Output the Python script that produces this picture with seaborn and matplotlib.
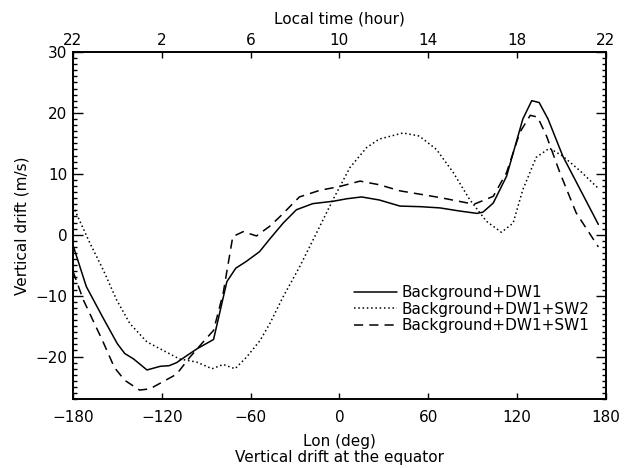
import pandas as pd
import matplotlib
matplotlib.use('Agg')
import matplotlib.pyplot as plt
import seaborn as sns
from matplotlib.ticker import MultipleLocator

# Values (lon in deg, drift in m/s)
lon_dw1 = [-180, -171, -160, -150, -145, -139, -130, -121, -115, -110, -104, -96, -85, -76, -70,
           -63, -54, -47, -38, -29, -18, -4, 5, 15, 27, 41, 55, 68, 81, 93, 97, 104, 113, 124,
           130, 135, 141, 151, 175]
drift_dw1 = [-1.7, -8.5, -13.5, -17.9, -19.5, -20.4, -22.2, -21.6, -21.5, -21.0, -20.0, -18.7, -17.2,
             -7.7, -5.5, -4.4, -2.8, -0.7, 1.9, 4.1, 5.1, 5.5, 5.9, 6.2, 5.7, 4.7, 4.6, 4.4, 3.9,
             3.5, 3.7, 5.2, 9.6, 19.0, 22.0, 21.7, 19.0, 12.9, 1.7]

lon_sw2 = [-180, -168.5, -159.5, -150.5, -141.5, -130, -119, -108, -96.5, -86, -78.5, -70.5, -62.7,
           -53.7, -47, -38, -26.7, -15.4, -4.2, 7.1, 18.4, 27, 43, 54, 65.6, 77, 88, 99.4, 109.5,
           117.4, 124, 133, 142, 151, 162.6, 175]
drift_sw2 = [4.7, -1.4, -5.8, -10.7, -14.6, -17.6, -19.0, -20.4, -20.9, -22.0, -21.3, -22.0, -20.1,
             -17.4, -14.6, -10.2, -5.2, 0.3, 5.8, 11.0, 14.3, 15.7, 16.7, 16.2, 14.0, 10.2, 5.8,
             2.2, 0.4, 1.9, 7.4, 12.7, 14.2, 12.9, 10.5, 7.6]

lon_sw1 = [-180, -173, -160, -152, -145, -135, -128, -119, -110, -101, -92, -85, -78.5, -72, -65,
           -56, -47, -40, -27, -13, 0, 14, 27, 41, 68, 91, 104, 113, 122, 129, 134, 140, 149, 160,
           175]
drift_sw1 = [-6.0, -10.7, -17.4, -21.8, -23.9, -25.5, -25.3, -24.1, -22.9, -20.1, -17.6, -15.7, -9.6,
             -0.3, 0.5, -0.2, 1.4, 3.0, 6.2, 7.3, 7.9, 8.8, 8.2, 7.2, 6.1, 5.0, 6.3, 10.2, 16.8,
             19.6, 19.3, 16.2, 10.2, 3.6, -2.0]

lon_ticks = [-180, -120, -60, 0, 60, 120, 180]
lt_labels = ['22', '2', '6', '10', '14', '18', '22']

sns.set_style('ticks')
plt.rcParams['font.family'] = ['DejaVu Sans']
plt.rcParams['font.size'] = 11
plt.rcParams['text.color'] = 'black'
plt.rcParams['axes.labelcolor'] = 'black'
plt.rcParams['xtick.color'] = 'black'
plt.rcParams['ytick.color'] = 'black'

fig = plt.figure(figsize=(6.29, 4.68), dpi=100)
ax = fig.add_axes([0.116, 0.147, 0.847, 0.742])

series = [
    (lon_dw1, drift_dw1, 'Background+DW1', '-'),
    (lon_sw2, drift_sw2, 'Background+DW1+SW2', (0, (1, 1.8))),
    (lon_sw1, drift_sw1, 'Background+DW1+SW1', (0, (6, 4))),
]
for lon, drift, name, ls in series:
    df = pd.DataFrame({'lon': lon, 'drift': drift})
    sns.lineplot(data=df, x='lon', y='drift', ax=ax, color='black', linewidth=1.1,
                 linestyle=ls, label=name, sort=False)

ax.set_xlim(-180, 180)
ax.set_ylim(-27, 30)
ax.set_xticks(lon_ticks)
ax.set_yticks([-20, -10, 0, 10, 20, 30])
ax.yaxis.set_minor_locator(MultipleLocator(1))
ax.tick_params(axis='both', which='both', direction='in', colors='black', labelsize=11)
ax.tick_params(axis='y', which='major', length=7, width=1, right=True, pad=4)
ax.tick_params(axis='y', which='minor', length=3, width=1, right=True)
ax.tick_params(axis='x', which='major', length=4.5, width=1, pad=8)
ax.set_xlabel('Lon (deg)\nVertical drift at the equator', fontsize=11, linespacing=1.1, labelpad=6)
ax.set_ylabel('Vertical drift (m/s)', fontsize=11, labelpad=4)
for s in ax.spines.values():
    s.set_linewidth(1.2)
    s.set_color('black')

top = ax.twiny()
top.set_xlim(ax.get_xlim())
top.set_xticks(lon_ticks)
top.set_xticklabels(lt_labels)
top.tick_params(axis='x', direction='in', length=4.5, width=1, labelsize=11, pad=3, colors='black')
top.set_xlabel('Local time (hour)', fontsize=11, labelpad=7)
for s in top.spines.values():
    s.set_linewidth(1.2)
    s.set_color('black')

ax.legend(loc='upper left', bbox_to_anchor=(0.527, 0.328), frameon=False, handlelength=2.8,
          handletextpad=0.3, labelspacing=0.1, borderpad=0, borderaxespad=0, fontsize=11)

fig.savefig('out.png', dpi=100)
